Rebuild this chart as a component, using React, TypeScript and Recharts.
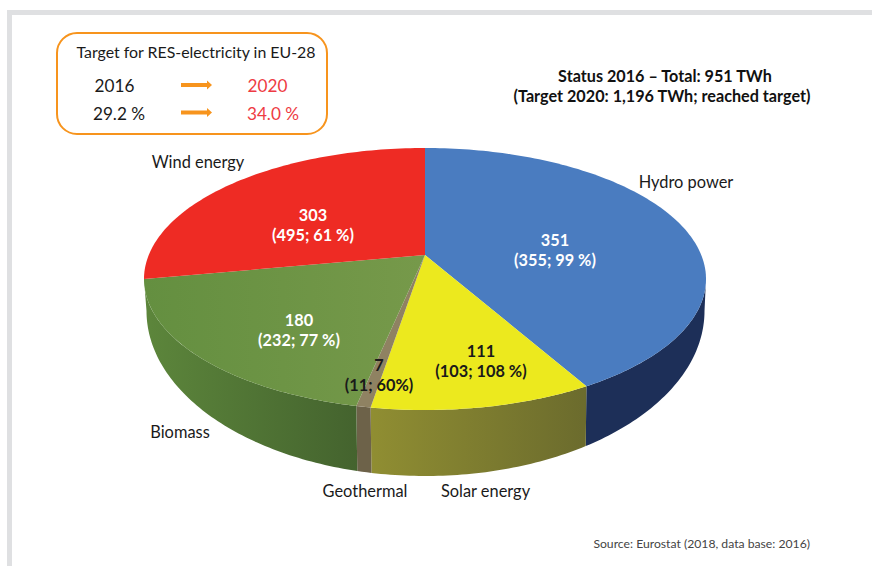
import React from 'react';
import { PieChart, Pie } from 'recharts';

const categories = ['Hydro power', 'Solar energy', 'Geothermal', 'Biomass', 'Wind energy'];
const values = [351, 111, 7, 180, 303];
const details = ['(355; 99 %)', '(103; 108 %)', '(11; 60%)', '(232; 77 %)', '(495; 61 %)'];
const topColors = ['#4a7cc0', '#ece91e', '#8f8262', 'url(#greenTop)', '#ee2b24'];
const sideColors = ['#1d2f58', 'url(#solarSide)', '#6d6249', 'url(#greenSide)', '#a01c18'];
const valueColors = ['#fff', '#1a1a1a', '#1a1a1a', '#fff', '#fff'];

const chartData = categories.map((name, i) => ({
  name,
  value: values[i],
  fill: topColors[i],
  side: sideColors[i],
}));

const FONT = 'Lato, sans-serif';

// ellipse of the top face and of the bottom rim
const TOP = { cx: 425, cy: 279, rx: 281, ry: 131 };
const BOTTOM = { cx: 425.5, cy: 311, rx: 279, ry: 165 };

// the picture is drawn in perspective, front slices look wider than the back ones
const warp = (deg: number) => {
  const t = (deg * Math.PI) / 180;
  return deg + 20.57 * Math.sin(t / 2) - 7.5 * Math.sin(t) + 3.43 * Math.sin((3 * t) / 2);
};

const pointOn = (e: typeof TOP, psi: number) => {
  const r = (psi * Math.PI) / 180;
  return [e.cx + e.rx * Math.sin(r), e.cy - e.ry * Math.cos(r)];
};

const sample = (from: number, to: number) => {
  const out: number[] = [];
  const steps = Math.max(2, Math.ceil(Math.abs(to - from)));
  for (let i = 0; i <= steps; i++) out.push(from + ((to - from) * i) / steps);
  return out;
};

const toPath = (pts: number[][]) =>
  pts.map((p, i) => `${i ? 'L' : 'M'}${p[0].toFixed(2)},${p[1].toFixed(2)}`).join(' ') + ' Z';

// recharts angles run counter clockwise from 3 o'clock
const TopSlice = (props: any) => {
  const a = warp(90 - props.startAngle);
  const b = warp(90 - props.endAngle);
  const rim = sample(a, b).map((psi) => pointOn(TOP, psi));
  return <path d={toPath([[props.cx, props.cy], ...rim])} fill={props.fill} stroke="none" />;
};

const SideSlice = (props: any) => {
  const a = Math.max(90, warp(90 - props.startAngle));
  const b = Math.min(270, warp(90 - props.endAngle));
  if (b <= a) return null;
  const angles = sample(a, b);
  const upper = angles.map((psi) => pointOn(TOP, psi));
  const lower = angles.map((psi) => pointOn(BOTTOM, psi)).reverse();
  return <path d={toPath([...upper, ...lower])} fill={props.side} stroke="none" />;
};

const categoryLabels = [
  { x: 686, y: 188 },
  { x: 485.5, y: 497 },
  { x: 365, y: 497 },
  { x: 180, y: 438 },
  { x: 198, y: 168 },
];
const valueLabels = [
  { x: 555, y: 246 },
  { x: 481, y: 357 },
  { x: 379, y: 371 },
  { x: 299, y: 326 },
  { x: 313, y: 221 },
];

// Slice texts go through the pie's label so they sit above the sectors
const ValueLabel = (props: any) => {
  const i = props.index;
  return (
    <text textAnchor="middle" fontSize={16.3} fontWeight={700} fill={valueColors[i]} fontFamily={FONT}>
      <tspan x={valueLabels[i].x} y={valueLabels[i].y}>{values[i]}</tspan>
      <tspan x={valueLabels[i].x} y={valueLabels[i].y + 20}>{details[i]}</tspan>
    </text>
  );
};

const App = () => {
  return (
    <div style={{ position: 'absolute', left: 0, top: 0, width: 872, height: 566, overflow: 'hidden', background: '#fff' }}>
      <PieChart width={872} height={566} margin={{ top: 0, right: 0, bottom: 0, left: 0 }} style={{ fontFamily: FONT }}>
        <defs>
          <linearGradient id="greenTop" gradientUnits="userSpaceOnUse" x1="145" y1="0" x2="420" y2="0">
            <stop offset="0" stopColor="#648f40" />
            <stop offset="1" stopColor="#76994a" />
          </linearGradient>
          <linearGradient id="greenSide" gradientUnits="userSpaceOnUse" x1="150" y1="0" x2="358" y2="0">
            <stop offset="0" stopColor="#5c853b" />
            <stop offset="1" stopColor="#44632e" />
          </linearGradient>
          <linearGradient id="solarSide" gradientUnits="userSpaceOnUse" x1="370" y1="0" x2="588" y2="0">
            <stop offset="0" stopColor="#908e32" />
            <stop offset="1" stopColor="#6b6b2d" />
          </linearGradient>
        </defs>

        <rect x={7} y={10} width={865} height={5} fill="#dfe0e2" />
        <rect x={7} y={10} width={5} height={556} fill="#dfe0e2" />

        <Pie
          data={chartData}
          dataKey="value"
          cx={425}
          cy={255}
          outerRadius={100}
          startAngle={90}
          endAngle={-270}
          paddingAngle={0}
          stroke="none"
          label={false}
          labelLine={false}
          isAnimationActive={false}
          shape={SideSlice}
          inactiveShape={SideSlice}
        />
        <Pie
          data={chartData}
          dataKey="value"
          cx={425}
          cy={255}
          outerRadius={100}
          startAngle={90}
          endAngle={-270}
          paddingAngle={0}
          stroke="none"
          label={ValueLabel}
          labelLine={false}
          isAnimationActive={false}
          shape={TopSlice}
          inactiveShape={TopSlice}
        />

        {categories.map((c, i) => (
          <text key={c} x={categoryLabels[i].x} y={categoryLabels[i].y} textAnchor="middle" fontSize={16.4} fill="#1a1a1a" fontFamily={FONT}>
            {c}
          </text>
        ))}

        <text textAnchor="middle" fontSize={16.2} fontWeight={700} fill="#111" fontFamily={FONT}>
          <tspan x={665} y={82}>Status 2016 – Total: 951 TWh</tspan>
          <tspan x={662} y={102}>(Target 2020: 1,196 TWh; reached target)</tspan>
        </text>
        <text x={810} y={548} textAnchor="end" fontSize={12.2} fill="#444" fontFamily={FONT}>
          Source: Eurostat (2018, data base: 2016)
        </text>

        <rect x={57} y={33} width={270} height={101} rx={20} fill="#fff" stroke="#f7941d" strokeWidth={2} />
        <text x={196} y={58} textAnchor="middle" fontSize={15.9} fill="#1a1a1a" fontFamily={FONT}>Target for RES-electricity in EU-28</text>
        <text x={114.5} y={92} textAnchor="middle" fontSize={17.2} fill="#1a1a1a" fontFamily={FONT}>2016</text>
        <text x={119} y={120} textAnchor="middle" fontSize={17.2} fill="#1a1a1a" fontFamily={FONT}>29.2 %</text>
        <text x={267.5} y={92} textAnchor="middle" fontSize={17.2} fill="#ee3b43" fontFamily={FONT}>2020</text>
        <text x={273} y={120} textAnchor="middle" fontSize={17.2} fill="#ee3b43" fontFamily={FONT}>34.0 %</text>
        {[85, 112.5].map((y) => (
          <g key={y}>
            <rect x={181} y={y - 2} width={27} height={4} fill="#f7941d" />
            <path d={`M207,${y - 4.5} L212,${y} L207,${y + 4.5} Z`} fill="#f7941d" />
          </g>
        ))}
      </PieChart>
    </div>
  );
};

export default App;
